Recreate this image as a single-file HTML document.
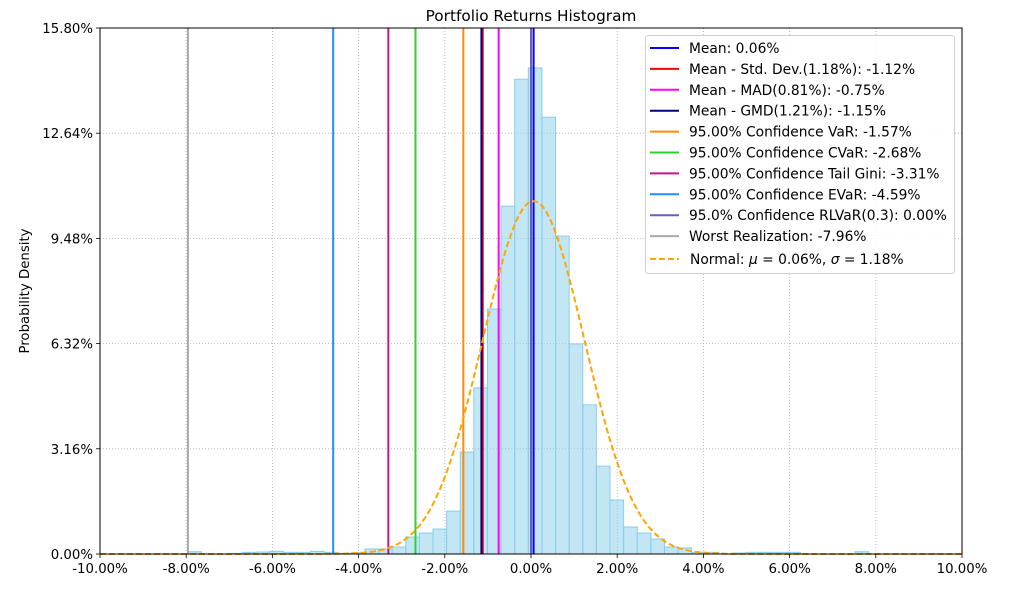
<!DOCTYPE html>
<html><head><meta charset="utf-8"><style>
html,body{margin:0;padding:0;background:#fff;}
svg{display:block;font-family:"DejaVu Sans","Liberation Sans",sans-serif;}
</style></head><body>
<svg id="chart" width="1011" height="591" viewBox="0 0 1011 591">
<text x="531" y="21" text-anchor="middle" font-size="15.3">Portfolio Returns Histogram</text>
<text transform="translate(29,291) rotate(-90)" text-anchor="middle" font-size="13.3">Probability Density</text>
<g id="grid"></g><g id="bars"></g><g id="vlines"></g><g id="curve"></g><g id="axes"></g><g id="legend"></g>
</svg>
<script>
const binStart = -7.96;
const binWidth = 0.3159;
const binHeights = [0.07,0,0,0.02,0.05,0.06,0.08,0.05,0.05,0.08,0.05,0.02,0.04,0.15,0.15,0.21,0.51,0.63,0.75,1.29,3.06,4.99,7.36,10.45,14.26,14.6,13.12,9.55,6.31,4.48,2.64,1.62,0.81,0.63,0.45,0.21,0.18,0.05,0.05,0,0.03,0.05,0.05,0.05,0.05,0,0,0,0,0.07];
const xTicks = [-10,-8,-6,-4,-2,0,2,4,6,8,10];
const yTicks = [0,3.16,6.32,9.48,12.64,15.80];
const lineNames = ["Mean: 0.06%","Mean - Std. Dev.(1.18%): -1.12%","Mean - MAD(0.81%): -0.75%","Mean - GMD(1.21%): -1.15%","95.00% Confidence VaR: -1.57%","95.00% Confidence CVaR: -2.68%","95.00% Confidence Tail Gini: -3.31%","95.00% Confidence EVaR: -4.59%","95.0% Confidence RLVaR(0.3): 0.00%","Worst Realization: -7.96%"];
const lineValues = [0.06,-1.12,-0.75,-1.15,-1.57,-2.68,-3.31,-4.59,0.00,-7.96];
const lineColors = ["#0000ff","#ff0000","#ff00ff","#000080","#ff8c00","#32cd32","#c71585","#1e90ff","#6a5acd","#a9a9a9"];
const normMu = 0.06, normSigma = 1.18, normPeak = 10.6;

const NS="http://www.w3.org/2000/svg";
const L=100,R=962,T=28,B=554;
const xs=v=>L+(v+10)/20*(R-L);
const ys=v=>B-v/15.8*(B-T);
function mk(tag,attrs,parent){const e=document.createElementNS(NS,tag);for(const k in attrs)e.setAttribute(k,attrs[k]);document.getElementById(parent).appendChild(e);return e;}
xTicks.forEach(t=>{
  const g=mk('line',{x1:xs(t),x2:xs(t),y1:T,y2:B,stroke:'#b0b0b0','stroke-width':0.8,'stroke-dasharray':'1,2'},'grid');
  
  
  const tk=mk('line',{x1:xs(t),x2:xs(t),y1:B,y2:B+4,stroke:'#000','stroke-width':0.8},'axes');
  
  
  const lb=mk('text',{x:xs(t),y:B+19,'text-anchor':'middle','font-size':13.3},'axes');
  lb.textContent=t.toFixed(2)+'%';
  
  
});
yTicks.forEach(t=>{
  const g=mk('line',{x1:L,x2:R,y1:ys(t),y2:ys(t),stroke:'#b0b0b0','stroke-width':0.8,'stroke-dasharray':'1,2'},'grid');
  
  
  const tk=mk('line',{x1:L-4,x2:L,y1:ys(t),y2:ys(t),stroke:'#000','stroke-width':0.8},'axes');
  
  
  const lb=mk('text',{x:L-7,y:ys(t)+5,'text-anchor':'end','font-size':13.3},'axes');
  lb.textContent=t.toFixed(2)+'%';
  
  
});
binHeights.forEach((h,i)=>{
  const x0=binStart+i*binWidth,x1=x0+binWidth;
  const r=mk('rect',{x:xs(x0),y:ys(h),width:xs(x1)-xs(x0),height:B-ys(h),fill:'#87ceeb','fill-opacity':0.5,stroke:'#87ceeb','stroke-width':1},'bars');
  
  
});
lineValues.forEach((v,i)=>{
  const l=mk('line',{x1:xs(v),x2:xs(v),y1:T,y2:B,stroke:lineColors[i],'stroke-width':2},'vlines');
  
  
});
let d='';
for(let k=0;k<=400;k++){const x=-10+k*20/400;const y=normPeak*Math.exp(-0.5*((x-normMu)/normSigma)**2);d+=(k?'L':'M')+xs(x).toFixed(2)+','+ys(y).toFixed(2);}
const c=mk('path',{d:d,fill:'none',stroke:'#ffa500','stroke-width':2,'stroke-dasharray':'6,3'},'curve');


const fr=mk('rect',{x:L,y:T,width:R-L,height:B-T,fill:'none',stroke:'#000','stroke-width':1},'axes');


const lbox=mk('rect',{x:645.5,y:35.5,width:309,height:238,rx:3,fill:'#fff','fill-opacity':0.85,stroke:'#d0d0d0'},'legend');


lineNames.forEach((n,i)=>{
  const y=48+i*20.9;
  const s=mk('line',{x1:650,x2:679,y1:y,y2:y,stroke:lineColors[i],'stroke-width':2},'legend');
  
  
  const t=mk('text',{x:689,y:y+5,'font-size':13.8},'legend');
  t.textContent=n;
  
  
});
const ny=48+10*20.9+2;
const ns=mk('line',{x1:650,x2:679,y1:ny,y2:ny,stroke:'#ffa500','stroke-width':2,'stroke-dasharray':'6,3'},'legend');


const nt=mk('text',{x:690,y:ny+5,'font-size':13.8},'legend');
nt.innerHTML='Normal: <tspan font-style="italic">μ</tspan> = 0.06%, <tspan font-style="italic">σ</tspan> = 1.18%';


</script>
</body></html>
